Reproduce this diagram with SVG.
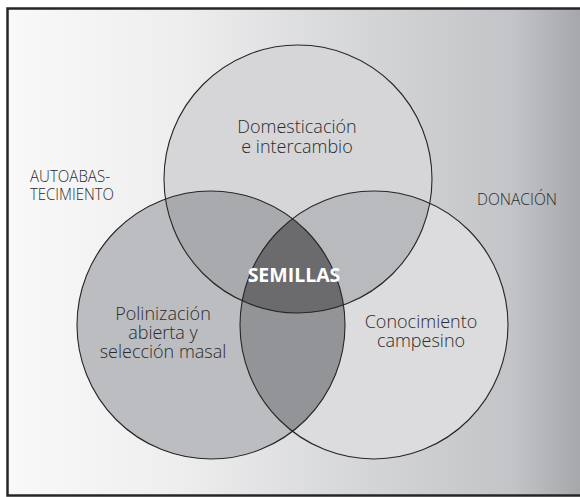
<svg xmlns="http://www.w3.org/2000/svg" width="580" height="497" viewBox="0 0 580 497">
<defs>
<linearGradient id="bg" x1="0" y1="0" x2="1" y2="0">
<stop offset="0" stop-color="#f9f9f9"/>
<stop offset="0.3" stop-color="#eeeeef"/>
<stop offset="0.6" stop-color="#d6d7d9"/>
<stop offset="0.88" stop-color="#c3c4c7"/>
<stop offset="1" stop-color="#a6a7ab"/>
</linearGradient>
<clipPath id="cT"><circle cx="298" cy="179" r="134"/></clipPath>
<clipPath id="cL"><circle cx="211" cy="325" r="134"/></clipPath>
<clipPath id="cR"><circle cx="374" cy="325" r="134"/></clipPath>
</defs>
<style>
.lbl{font-family:"Open Sans","Noto Sans","Liberation Sans",sans-serif;font-size:18px;fill:#2b2b2b;text-anchor:middle;font-weight:300}
.side{font-family:"Open Sans","Noto Sans","Liberation Sans",sans-serif;font-size:15.5px;fill:#2b2b2b;font-weight:300}
.ring{fill:none;stroke:#262626;stroke-width:1.1}
</style>
<rect x="7.5" y="8.5" width="574" height="487" fill="url(#bg)" stroke="#262626" stroke-width="2.5"/>
<g id="circles-fill">
<circle cx="298" cy="179" r="134" fill="#d6d6d8"/>
<circle cx="374" cy="325" r="134" fill="#dcdcde"/>
<circle cx="211" cy="325" r="134" fill="#bcbdc0"/>
<g clip-path="url(#cT)"><circle cx="211" cy="325" r="134" fill="#a9aaad"/><circle cx="374" cy="325" r="134" fill="#b9babd"/></g>
<g clip-path="url(#cL)"><circle cx="374" cy="325" r="134" fill="#939497"/></g>
<g clip-path="url(#cL)"><g clip-path="url(#cR)"><circle cx="298" cy="179" r="134" fill="#6b6b6e"/></g></g>
</g>
<g id="node-top">
<circle class="ring" cx="298" cy="179" r="134"/>
<text class="lbl"><tspan x="297" y="133">Domesticación</tspan><tspan x="297" y="153">e intercambio</tspan></text>
</g>
<g id="node-left">
<circle class="ring" cx="211" cy="325" r="134"/>
<text class="lbl"><tspan x="163" y="320">Polinización</tspan><tspan x="163" y="339">abierta y</tspan><tspan x="163" y="358">selección masal</tspan></text>
</g>
<g id="node-right">
<circle class="ring" cx="374" cy="325" r="134"/>
<text class="lbl"><tspan x="421" y="328">Conocimiento</tspan><tspan x="421" y="347">campesino</tspan></text>
</g>
<g id="node-center">
<text x="294" y="282" font-family="'Open Sans','Noto Sans','Liberation Sans',sans-serif" font-size="19.5" font-weight="700" fill="#ffffff" text-anchor="middle">SEMILLAS</text>
</g>
<g id="node-autoabastecimiento">
<text class="side"><tspan x="30" y="182" textLength="80" lengthAdjust="spacingAndGlyphs">AUTOABAS-</tspan><tspan x="30" y="200" textLength="84" lengthAdjust="spacingAndGlyphs">TECIMIENTO</tspan></text>
</g>
<g id="node-donacion">
<text class="side" x="477" y="205" textLength="80" lengthAdjust="spacingAndGlyphs">DONACIÓN</text>
</g>
<g id="connectors"/>
</svg>
